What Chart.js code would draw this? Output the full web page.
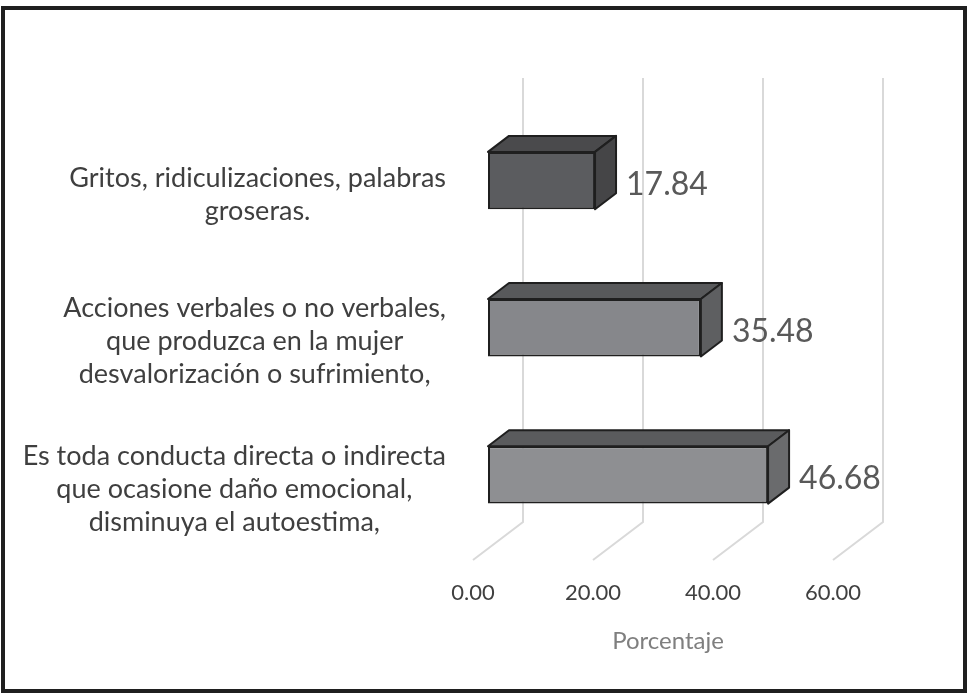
<!DOCTYPE html>
<html>
<head>
<meta charset="utf-8">
<script src="https://cdn.jsdelivr.net/npm/chart.js@4.4.1/dist/chart.umd.min.js"></script>
<style>
  html, body { margin: 0; padding: 0; background: #fff; }
  #wrap { position: relative; width: 968px; height: 693px; }
  #frame {
    position: absolute; left: 1px; top: 6px; width: 958px; height: 679px;
    border: 4px solid #1f1f1f; pointer-events: none;
  }
</style>
</head>
<body>
<div id="wrap">
  <canvas id="chart" width="968" height="693"></canvas>
  <div id="frame"></div>
</div>
<script>
const categories = [
  ["Gritos, ridiculizaciones, palabras", "groseras."],
  ["Acciones verbales o no verbales,", "que produzca en la mujer", "desvalorización o sufrimiento,"],
  ["Es toda conducta directa o indirecta", "que ocasione daño emocional,", "disminuya el autoestima,"],
];
const percentages = [17.84, 35.48, 46.68];
const xTicks = [0, 20, 40, 60];
const axisTitle = "Porcentaje";

const frontColors = ["#5b5c5f", "#86878b", "#8e8f92"];
const topColors = ["#4a4a4c", "#58595b", "#5a5b5d"];
const sideColors = ["#454547", "#5e5f61", "#6a6b6d"];

// depth of the fake 3D box, and where the wall / floor sit relative to the bar front
const DEPTH = { dx: 21, dy: -16 };
const WALL = { dx: 35, dy: -26.5 };
const FLOOR = { dx: -15, dy: 11.5 };

const threeD = {
  id: "threeD",
  beforeDatasetsDraw(chart) {
    const { ctx, chartArea, scales: { x } } = chart;
    ctx.save();
    ctx.strokeStyle = "#d9d9d9";
    ctx.lineWidth = 2;
    xTicks.forEach((v) => {
      const px = x.getPixelForValue(v);
      const bx = px + WALL.dx;
      const by = chartArea.bottom + WALL.dy;
      ctx.beginPath();
      ctx.moveTo(bx, chartArea.top - 29);
      ctx.lineTo(bx, by);
      ctx.lineTo(px + FLOOR.dx, chartArea.bottom + FLOOR.dy);
      ctx.stroke();
    });
    ctx.restore();
  },
  afterDatasetsDraw(chart) {
    const { ctx, scales: { y } } = chart;
    const meta = chart.getDatasetMeta(0);
    ctx.save();
    ctx.lineJoin = "round";
    ctx.lineWidth = 2;
    ctx.strokeStyle = "#1f1f1f";
    meta.data.forEach((bar, i) => {
      const { x, y: cy, base, height } = bar.getProps(["x", "y", "base", "height"], true);
      const top = cy - height / 2;
      const bottom = cy + height / 2;
      // top face
      ctx.beginPath();
      ctx.moveTo(base, top);
      ctx.lineTo(base + DEPTH.dx, top + DEPTH.dy);
      ctx.lineTo(x + DEPTH.dx, top + DEPTH.dy);
      ctx.lineTo(x, top);
      ctx.closePath();
      ctx.fillStyle = topColors[i];
      ctx.fill();
      ctx.stroke();
      // side face
      ctx.beginPath();
      ctx.moveTo(x, top);
      ctx.lineTo(x + DEPTH.dx, top + DEPTH.dy);
      ctx.lineTo(x + DEPTH.dx, bottom + DEPTH.dy);
      ctx.lineTo(x, bottom);
      ctx.closePath();
      ctx.fillStyle = sideColors[i];
      ctx.fill();
      ctx.stroke();
      // value label
      ctx.fillStyle = "#595959";
      ctx.font = "32px Lato";
      ctx.textAlign = "left";
      ctx.textBaseline = "middle";
      ctx.fillText(percentages[i].toFixed(2), x + DEPTH.dx + 10, cy + 4);
    });

    // category labels: each block right-aligned, lines centred inside the block
    ctx.font = "27px Lato";
    ctx.fillStyle = "#3f3f3f";
    ctx.textAlign = "center";
    ctx.textBaseline = "middle";
    const lineH = 33;
    const rightEdge = chart.chartArea.left - 42;
    categories.forEach((lines, i) => {
      const widest = Math.max(...lines.map((l) => ctx.measureText(l).width));
      const cx = rightEdge - widest / 2;
      const cy = y.getPixelForTick(i) + 14;
      lines.forEach((l, j) => {
        ctx.fillText(l, cx, cy + (j - (lines.length - 1) / 2) * lineH);
      });
    });
    ctx.restore();
  },
};

new Chart(document.getElementById("chart"), {
  type: "bar",
  data: {
    labels: categories,
    datasets: [
      {
        data: percentages,
        backgroundColor: frontColors,
        borderColor: "#1f1f1f",
        borderWidth: 2,
        borderSkipped: false,
        categoryPercentage: 1,
        barPercentage: 0.39,
      },
    ],
  },
  options: {
    indexAxis: "y",
    responsive: false,
    animation: false,
    devicePixelRatio: 1,
    layout: { padding: { top: 107, right: 120, bottom: 0, left: 0 } },
    plugins: {
      legend: { display: false },
      tooltip: { enabled: false },
    },
    scales: {
      x: {
        min: 0,
        max: 60,
        afterFit: (scale) => { scale.height = 144.5; },
        afterBuildTicks: (scale) => { scale.ticks = xTicks.map((v) => ({ value: v })); },
        grid: { display: false, drawTicks: false },
        border: { display: false },
        ticks: {
          padding: 31,
          labelOffset: FLOOR.dx,
          color: "#404040",
          font: { family: "Lato", size: 22 },
          callback: (v) => Number(v).toFixed(2),
        },
        title: {
          display: true,
          text: axisTitle,
          color: "#7f7f7f",
          font: { family: "Lato", size: 24 },
          padding: { top: 0, bottom: 37 },
        },
      },
      y: {
        afterFit: (scale) => { scale.width = 488; },
        grid: { display: false },
        border: { display: false },
        ticks: { display: false },
      },
    },
  },
  plugins: [threeD],
});
</script>
</body>
</html>
